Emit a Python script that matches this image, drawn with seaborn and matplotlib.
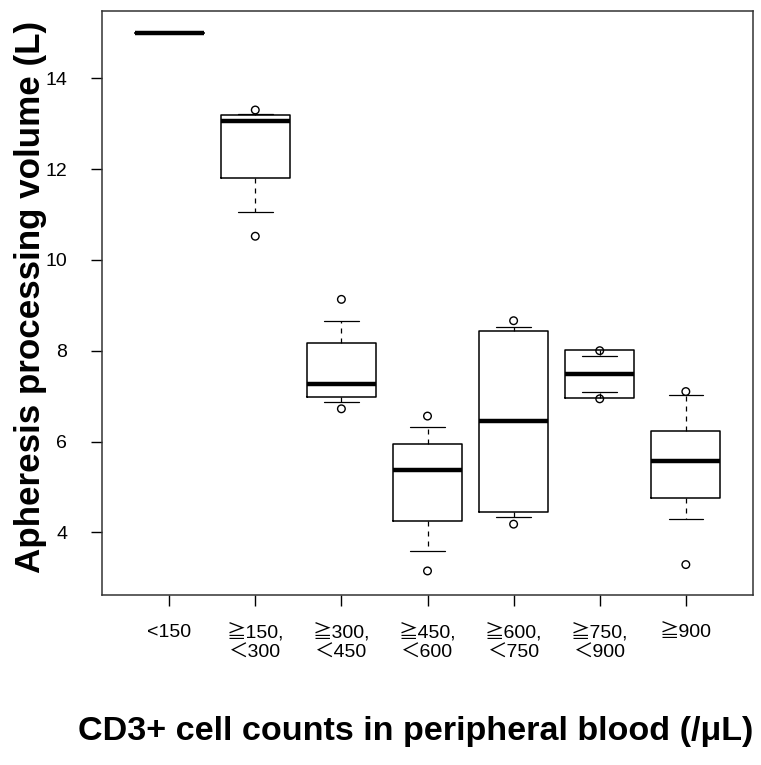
import numpy as np
import pandas as pd
import matplotlib
matplotlib.use("Agg")
import matplotlib.pyplot as plt
import seaborn as sns
from matplotlib import font_manager

# --- data (litres) ---
categories = ["<150", "≧150,\n＜300", "≧300,\n＜450", "≧450,\n＜600",
              "≧600,\n＜750", "≧750,\n＜900", "≧900"]
q1 = [15.0, 11.80, 6.99, 4.25, 4.44, 6.96, 4.75]
medians = [15.0, 13.06, 7.26, 5.38, 6.45, 7.49, 5.57]
q3 = [15.0, 13.19, 8.18, 5.95, 8.43, 8.02, 6.23]
whisk_lo = [15.0, 11.05, 6.86, 3.59, 4.34, 7.08, 4.29]
whisk_hi = [15.0, 13.22, 8.65, 6.33, 8.52, 7.89, 7.02]
point_lo = [np.nan, 10.52, 6.72, 3.15, 4.18, 6.94, 3.29]
point_hi = [np.nan, 13.30, 9.13, 6.56, 8.66, 8.00, 7.10]
yticks = [4, 6, 8, 10, 12, 14]

sns.set_theme(style="ticks")
installed = {f.name for f in font_manager.fontManager.ttflist}
narrow = "Liberation Sans Narrow" if "Liberation Sans Narrow" in installed else "Liberation Sans"
plt.rcParams["font.family"] = ["Liberation Sans", "DejaVu Sans"]
plt.rcParams["text.color"] = "black"
plt.rcParams["xtick.color"] = "black"
plt.rcParams["ytick.color"] = "black"
plt.rcParams["axes.labelcolor"] = "black"
tick_fonts = [narrow, "Noto Sans CJK JP", "DejaVu Sans"]

fig = plt.figure(figsize=(7.61, 7.65), dpi=100)
ax = fig.add_axes([102 / 761, 1 - 595 / 765, 651 / 761, 584 / 765])

pos = np.arange(len(categories))

# box statistics for bxp
stats = []
for i in range(len(categories)):
    stats.append({"med": medians[i], "q1": q1[i], "q3": q3[i],
                  "whislo": whisk_lo[i], "whishi": whisk_hi[i], "fliers": []})

ax.bxp(stats, positions=pos, widths=0.8, capwidths=0.4, showfliers=False,
       boxprops=dict(color="black", linewidth=1.1),
       whiskerprops=dict(color="black", linewidth=0.9, linestyle=(0, (4, 4))),
       capprops=dict(color="black", linewidth=0.9),
       medianprops=dict(color="black", linewidth=3.2, solid_capstyle="butt"))

# open circles at the extremes
pts = pd.DataFrame({"x": np.concatenate([pos, pos]),
                    "y": np.concatenate([point_lo, point_hi])}).dropna()
sns.scatterplot(data=pts, x="x", y="y", ax=ax, marker="o", s=30,
                facecolor="none", edgecolor="black", linewidth=1.0, zorder=3)

ax.set_xlim(-0.78, 6.78)
ax.set_ylim(2.62, 15.48)
ax.set_xticks(pos)
ax.set_xticklabels(categories, fontsize=14, family=tick_fonts, linespacing=1.2)
ax.set_yticks(yticks)
ax.set_yticklabels([str(v) for v in yticks], fontsize=14, family=tick_fonts)
ax.tick_params(axis="x", length=8, width=1, pad=13)
ax.tick_params(axis="y", length=8, width=1, pad=17)

for sp in ax.spines.values():
    sp.set_color("#333333")
    sp.set_linewidth(1.1)

ax.set_xlabel("CD3+ cell counts in peripheral blood (/μL)", fontsize=24.6, fontweight="bold")
ax.set_ylabel("Apheresis processing volume (L)", fontsize=25.2, fontweight="bold")
ax.xaxis.set_label_coords(0.482, -0.208)
ax.yaxis.set_label_coords(-0.085, 0.51)

fig.savefig("out.png", dpi=100)
